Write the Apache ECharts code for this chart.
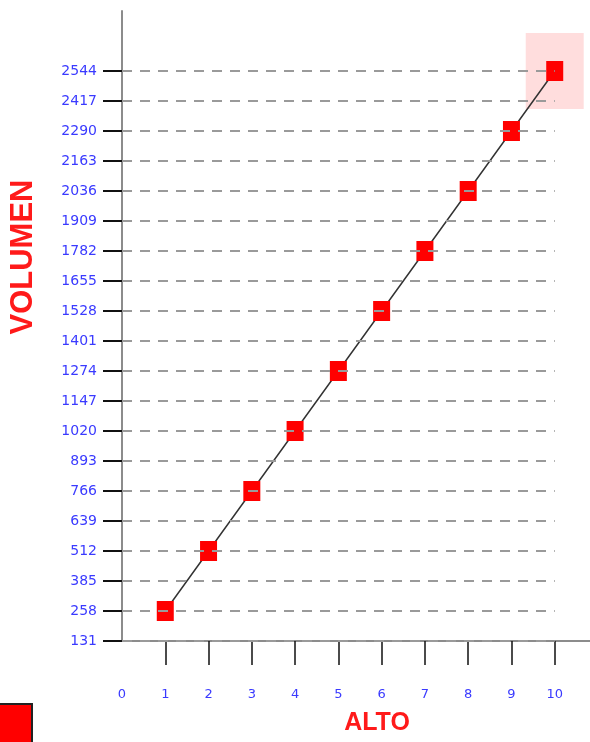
<!DOCTYPE html>
<html>
<head>
<meta charset="utf-8">
<script src="https://cdn.jsdelivr.net/npm/echarts@6/dist/echarts.min.js"></script>
<style>
  html, body { margin: 0; padding: 0; background: #fff; }
  #chart { width: 590px; height: 742px; }
</style>
</head>
<body>
<div id="chart"></div>
<script>
// --- data ---
const altoValues = [1, 2, 3, 4, 5, 6, 7, 8, 9, 10];
const volumenValues = [258, 512, 766, 1020, 1274, 1528, 1782, 2036, 2290, 2544];
const yTickValues = [131, 258, 385, 512, 639, 766, 893, 1020, 1147, 1274, 1401, 1528, 1655, 1782, 1909, 2036, 2163, 2290, 2417, 2544];
const xLabelValues = [0, 1, 2, 3, 4, 5, 6, 7, 8, 9, 10];
const xTickValues = [1, 2, 3, 4, 5, 6, 7, 8, 9, 10];

const COLORS = {
  point: '#ff0000',
  line: '#333333',
  label: '#3a3aff',
  title: '#ff1a1a',
  axis: '#8c8c8c',
  tick: '#111111',
  dash: '#9a9a9a',
  highlight: 'rgba(255, 0, 0, 0.17)'
};

const points = altoValues.map((x, i) => [x, volumenValues[i]]);
const lastPoint = points[points.length - 1];

// dashed guide lines, from x = 0 up to the last category
const guideLines = yTickValues.map(v => [
  { coord: [0, v] },
  { coord: [altoValues[altoValues.length - 1], v] }
]);

const chart = echarts.init(document.getElementById('chart'));

const option = {
  backgroundColor: '#fff',
  animation: false,
  grid: { left: 122, right: -8, top: 11, bottom: 101, containLabel: false, outerBoundsMode: 'none' },
  legend: {
    left: -5,
    top: 703,
    padding: 0,
    itemWidth: 36,
    itemHeight: 44,
    formatter: () => '',
    data: [{ name: 'VOLUMEN', icon: 'rect', itemStyle: { color: COLORS.point, borderColor: '#222', borderWidth: 2 } }]
  },
  xAxis: {
    type: 'value',
    min: 0,
    max: 11,
    name: 'ALTO',
    nameLocation: 'middle',
    nameGap: 70,
    nameTextStyle: { color: COLORS.title, fontSize: 25, fontWeight: 'bold', fontFamily: 'Liberation Sans', padding: [0, 0, 0, 34] },
    axisLine: { show: true, onZero: false, lineStyle: { color: COLORS.axis, width: 2 } },
    axisTick: { show: true, length: 24, lineStyle: { color: COLORS.tick, width: 1.5 }, customValues: xTickValues },
    axisLabel: { color: COLORS.label, fontSize: 13, fontFamily: 'DejaVu Sans', margin: 47, customValues: xLabelValues, formatter: v => String(v) },
    splitLine: { show: false }
  },
  yAxis: {
    type: 'value',
    min: 131,
    max: 2798,
    name: 'VOLUMEN',
    nameLocation: 'middle',
    nameRotate: 90,
    nameGap: 83,
    nameTextStyle: { color: COLORS.title, fontSize: 31, fontWeight: 'bold', fontFamily: 'Liberation Sans', padding: [0, 0, 0, 138] },
    axisLine: { show: true, lineStyle: { color: COLORS.axis, width: 2 } },
    axisTick: { show: true, length: 19, lineStyle: { color: COLORS.tick, width: 2 }, customValues: yTickValues },
    axisLabel: { color: COLORS.label, fontSize: 14, fontFamily: 'DejaVu Sans', margin: 25, customValues: yTickValues, formatter: v => String(v) },
    splitLine: { show: false }
  },
  series: [
    {
      name: 'highlight',
      type: 'scatter',
      data: [lastPoint],
      symbol: 'rect',
      symbolSize: [58, 76],
      itemStyle: { color: COLORS.highlight },
      silent: true,
      z: 1
    },
    {
      name: 'guides',
      type: 'line',
      data: [],
      markLine: {
        silent: true,
        symbol: 'none',
        label: { show: false },
        lineStyle: { color: COLORS.dash, width: 2, type: [10, 8] },
        data: guideLines
      },
      z: 2
    },
    {
      name: 'VOLUMEN',
      type: 'line',
      data: points,
      symbol: 'rect',
      symbolSize: [17, 20],
      itemStyle: { color: COLORS.point },
      lineStyle: { color: COLORS.line, width: 1.5 },
      z: 3
    }
  ]
};

chart.setOption(option);
</script>
</body>
</html>
